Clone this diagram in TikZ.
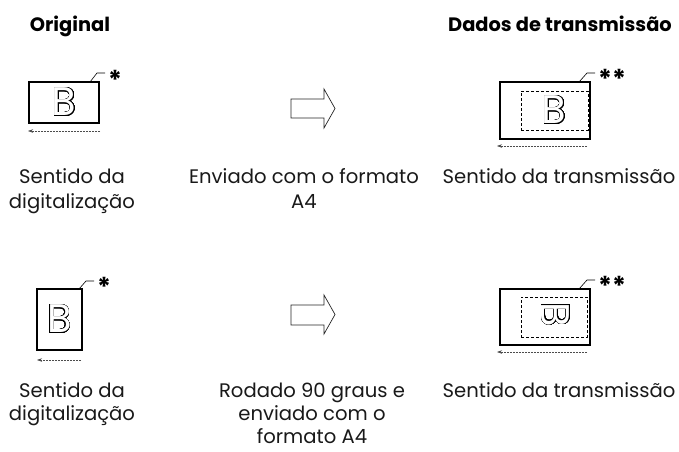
\documentclass[tikz,border=0pt]{standalone}
\usepackage{fontspec}
\setmainfont{Poppins}
\usepackage{contour}
\contourlength{0.6pt}
\contournumber{32}
\usetikzlibrary{arrows.meta}
\newcommand{\outlineB}{\contour{black}{\textcolor{white}{B}}}
\begin{document}
\begin{tikzpicture}[x=1pt,y=-1pt,
  docbox/.style={draw=black,line width=1.3pt,inner sep=0pt,fill=white},
  inner/.style={draw=black,dash pattern=on 3pt off 2pt,line width=0.7pt,inner sep=0pt},
  leader/.style={draw=black,line width=0.6pt},
  scanarrow/.style={draw=black!70,line width=0.5pt,dash pattern=on 2pt off 1pt,-{Stealth[length=5pt,width=3.5pt]}},
  star/.style={font=\fontsize{26}{26}\selectfont\bfseries,inner sep=0pt,anchor=base west},
  letter/.style={font=\fontsize{40}{40}\selectfont,inner sep=0pt},
  blockarrow/.style={draw=black!85,line width=0.7pt,fill=white,line join=miter},
  lbltop/.style={font=\fontsize{19.6}{25}\selectfont,align=center,anchor=base,inner sep=0pt,text=black!90},
  lblbot/.style={font=\fontsize{19.6}{23}\selectfont,align=center,anchor=base,inner sep=0pt,text=black!90},
  head/.style={font=\fontsize{19.4}{24}\selectfont\bfseries,anchor=base,inner sep=0pt}]
\useasboundingbox (0,0) rectangle (679,451);
% headings
\node[head] (h1) at (70,31) {Original};
\node[head] (h2) at (560,31) {Dados de transmissão};
% ---- top row ----
\node[docbox,minimum width=70pt,minimum height=41pt] (d1) at (64,102.5) {};
\node[letter] (b1) at (64,102) {\outlineB};
\coordinate (l1a) at (90,82);
\coordinate (l1b) at (97,73);
\coordinate (l1c) at (105,73);
\draw[leader] (l1a) -- (l1b) -- (l1c);
\node[star] (s1) at (108,89) {*};
\coordinate (a1s) at (100,131);
\coordinate (a1e) at (28,131);
\draw[scanarrow] (a1s) -- (a1e);

\draw[blockarrow] (291,99) -- (324,99) -- (324,89) -- (335,108.5) -- (324,128) -- (324,118) -- (291,118) -- cycle;

\node[docbox,minimum width=90pt,minimum height=57pt] (d2) at (545,110.5) {};
\node[inner,minimum width=67pt,minimum height=39pt] (i2) at (554.5,110.5) {};
\node[letter] (b2) at (554,110) {\outlineB};
\coordinate (l2a) at (579,82);
\coordinate (l2b) at (587,73);
\coordinate (l2c) at (595,73);
\draw[leader] (l2a) -- (l2b) -- (l2c);
\node[star] (s2) at (598,88) {**};
\coordinate (a2s) at (587,146);
\coordinate (a2e) at (497,146);
\draw[scanarrow] (a2s) -- (a2e);

\node[lbltop] (t1) at (72,208) {Sentido da\\digitalização};
\node[lbltop] (t2) at (304,208) {Enviado com o formato\\A4};
\node[lbltop] (t3) at (559,183) {Sentido da transmissão};

% ---- bottom row ----
\node[docbox,minimum width=45pt,minimum height=61pt] (d3) at (59.5,319.5) {};
\node[letter] (b3) at (59.5,319) {\outlineB};
\coordinate (l3a) at (79,289);
\coordinate (l3b) at (86,281);
\coordinate (l3c) at (94,281);
\draw[leader] (l3a) -- (l3b) -- (l3c);
\node[star] (s3) at (97,296) {*};
\coordinate (a3s) at (81,360);
\coordinate (a3e) at (37,360);
\draw[scanarrow] (a3s) -- (a3e);

\draw[blockarrow] (291,305) -- (324,305) -- (324,295) -- (335,314.5) -- (324,334) -- (324,325) -- (291,325) -- cycle;

\node[docbox,minimum width=90pt,minimum height=56pt] (d4) at (545,317) {};
\node[inner,minimum width=66pt,minimum height=40pt] (i4) at (554,317) {};
\node[letter,rotate=-90] (b4) at (555.5,314.5) {\outlineB};
\coordinate (l4a) at (579,289);
\coordinate (l4b) at (587,280);
\coordinate (l4c) at (595,280);
\draw[leader] (l4a) -- (l4b) -- (l4c);
\node[star] (s4) at (598,295) {**};
\coordinate (a4s) at (587,352);
\coordinate (a4e) at (497,352);
\draw[scanarrow] (a4s) -- (a4e);

\node[lblbot] (t4) at (72,420) {Sentido da\\digitalização};
\node[lblbot] (t5) at (312,443) {Rodado 90 graus e\\enviado com o\\formato A4};
\node[lblbot] (t6) at (559,397) {Sentido da transmissão};
\end{tikzpicture}
\end{document}
